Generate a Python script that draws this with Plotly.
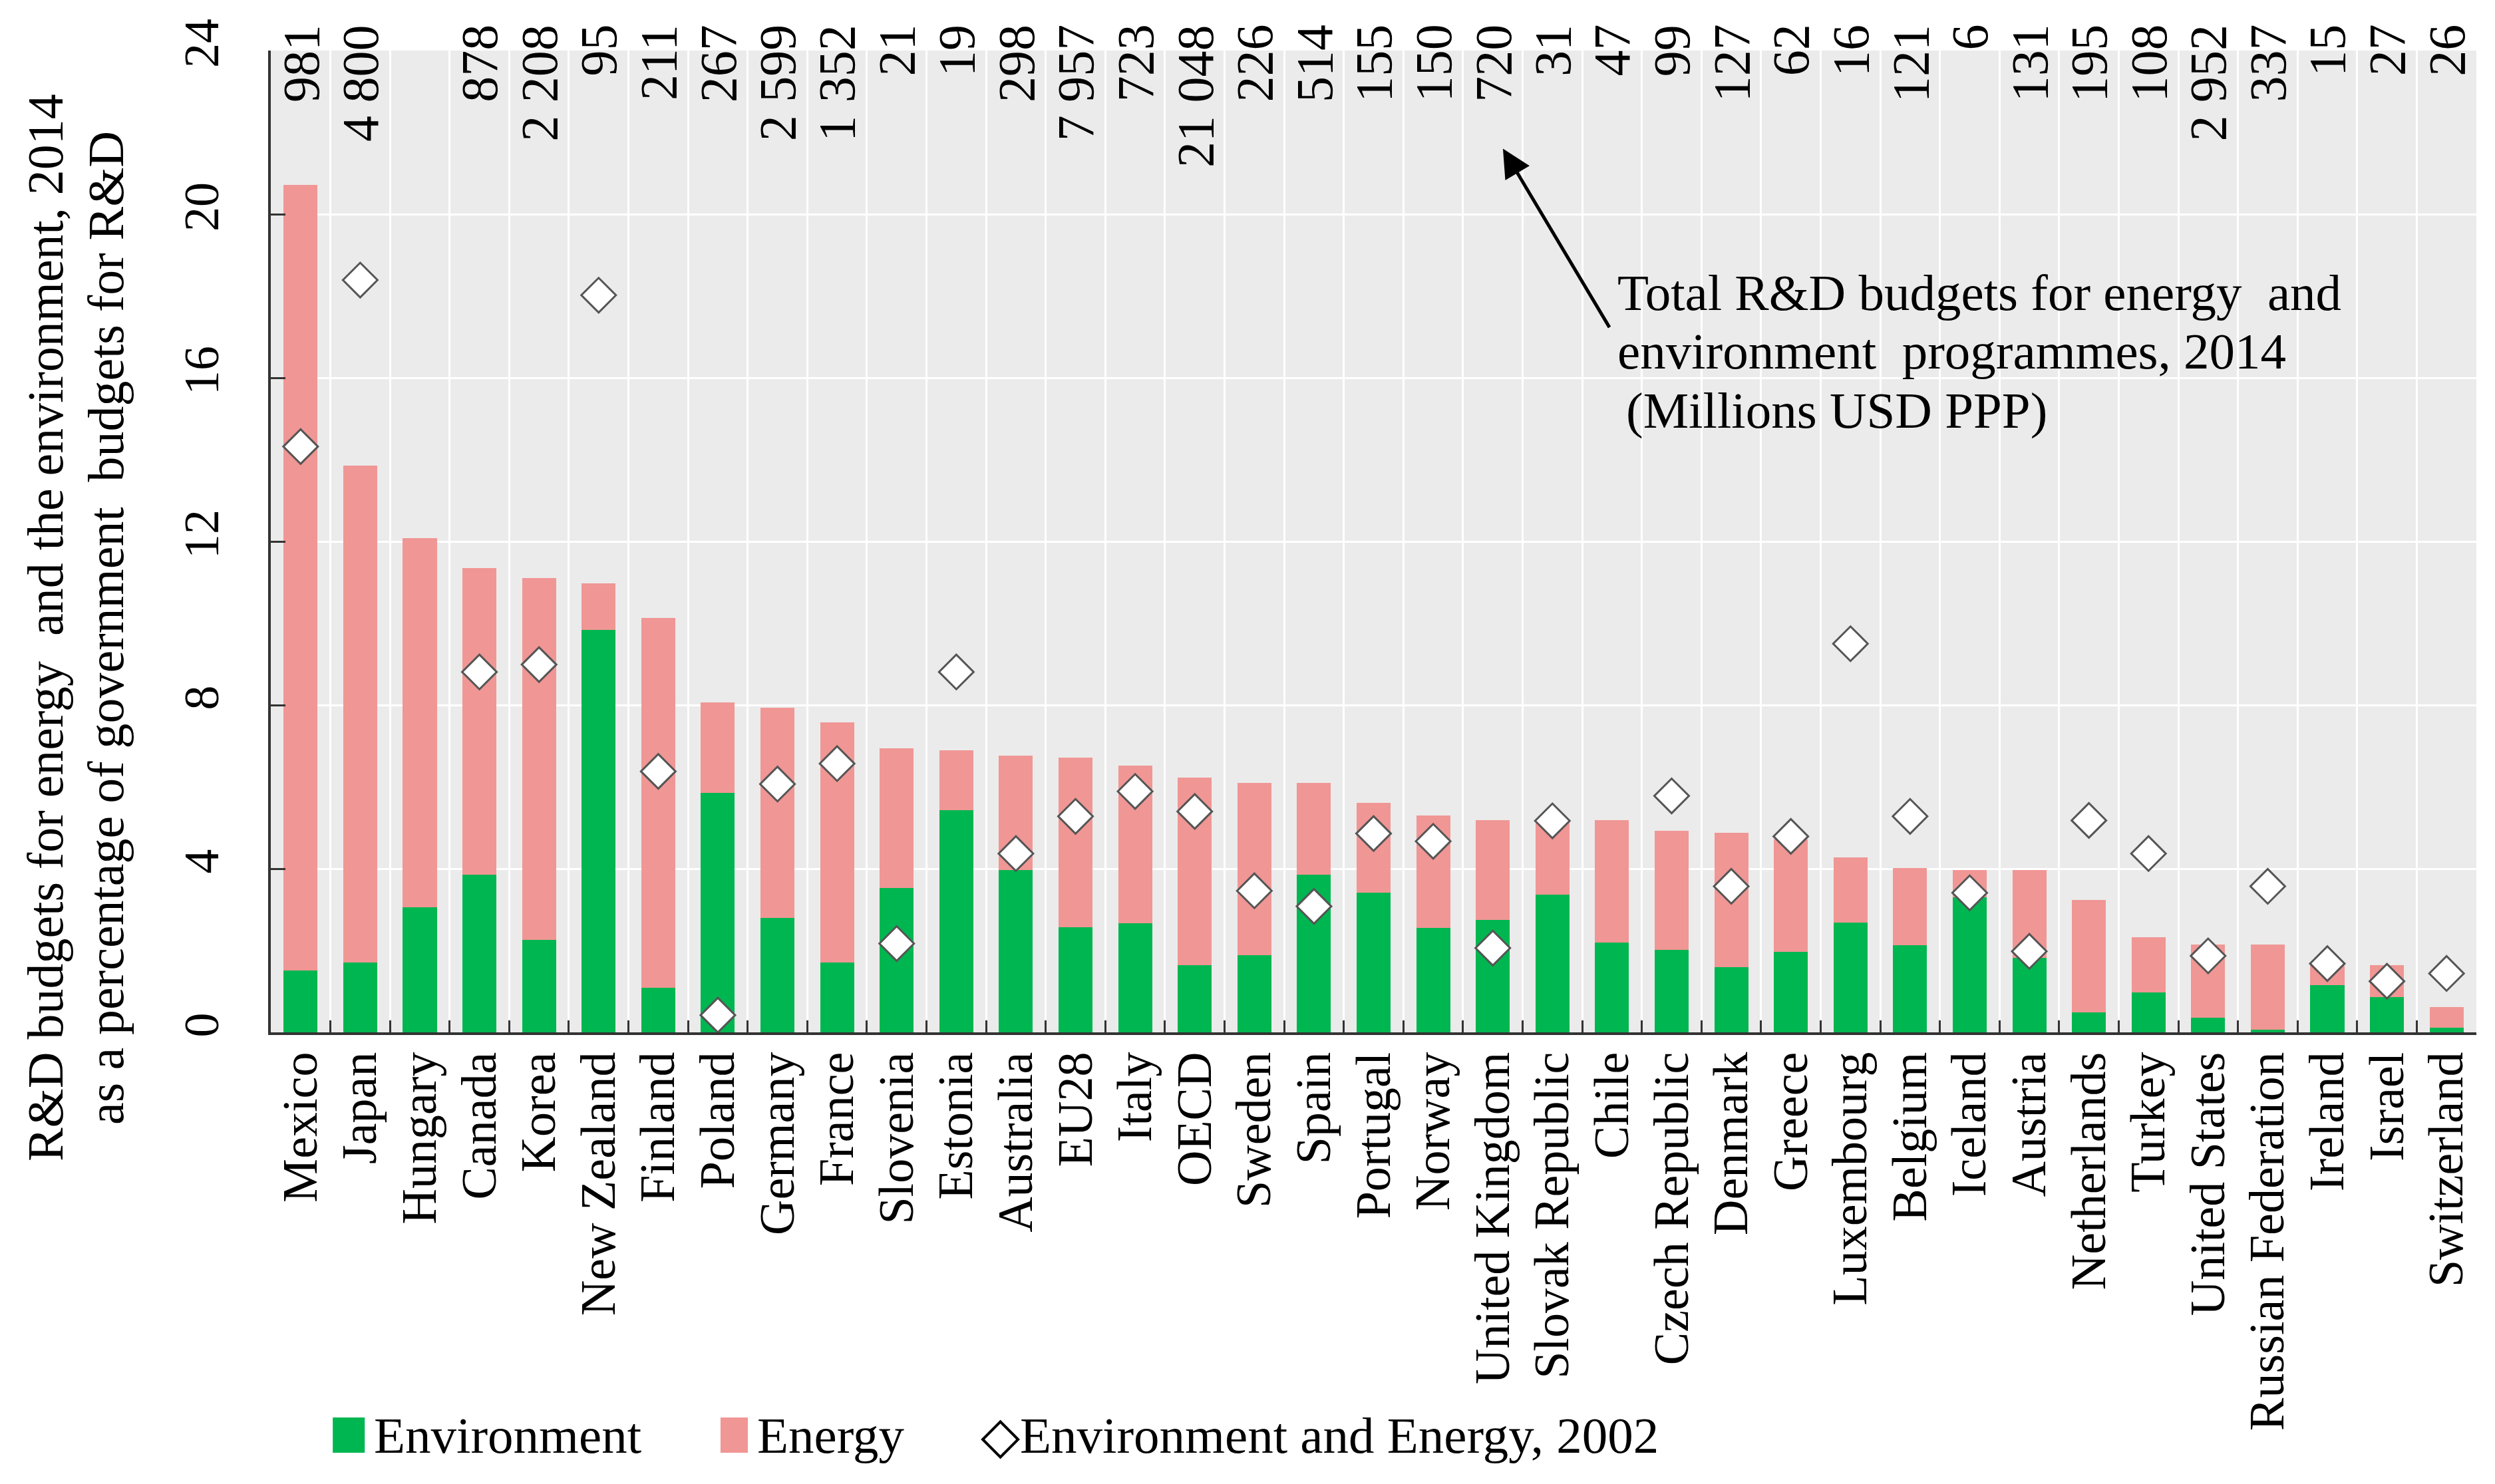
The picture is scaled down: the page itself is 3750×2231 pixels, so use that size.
import plotly.graph_objects as go

categories = ["Mexico", "Japan", "Hungary", "Canada", "Korea", "New Zealand", "Finland", "Poland",
              "Germany", "France", "Slovenia", "Estonia", "Australia", "EU28", "Italy", "OECD",
              "Sweden", "Spain", "Portugal", "Norway", "United Kingdom", "Slovak Republic", "Chile",
              "Czech Republic", "Denmark", "Greece", "Luxembourg", "Belgium", "Iceland", "Austria",
              "Netherlands", "Turkey", "United States", "Russian Federation", "Ireland", "Israel",
              "Switzerland"]

environment = [1.52, 1.70, 3.06, 3.85, 2.26, 9.83, 1.09, 5.86, 2.80, 1.70, 3.53, 5.43, 3.96, 2.57,
               2.67, 1.65, 1.89, 3.85, 3.41, 2.56, 2.75, 3.36, 2.19, 2.01, 1.59, 1.96, 2.68, 2.13,
               3.30, 1.82, 0.49, 0.97, 0.36, 0.07, 1.16, 0.86, 0.12]

energy = [19.20, 12.15, 9.02, 7.50, 8.84, 1.15, 9.04, 2.20, 5.13, 5.87, 3.42, 1.46, 2.81, 4.14,
          3.85, 4.57, 4.20, 2.24, 2.20, 2.74, 2.43, 1.79, 2.99, 2.92, 3.29, 2.76, 1.59, 1.89,
          0.66, 2.14, 2.74, 1.35, 1.78, 2.07, 0.46, 0.79, 0.49]

env_energy_2002 = [14.32, 18.39, None, 8.81, 8.99, 18.02, 6.38, 0.42, 6.07, 6.57, 2.17, 8.81, 4.37,
                   5.28, 5.89, 5.40, 3.46, 3.08, 4.86, 4.67, 2.06, 5.17, None, 5.78, 3.57, 4.79,
                   9.50, 5.28, 3.41, 1.98, 5.18, 4.37, 1.87, 3.57, 1.68, 1.25, 1.44]

total_budget_labels = ["981", "4 800", "", "878", "2 208", "95", "211", "267", "2 599", "1 352",
                       "21", "19", "298", "7 957", "723", "21 048", "226", "514", "155", "150",
                       "720", "31", "47", "99", "127", "62", "16", "121", "6", "131", "195", "108",
                       "2 952", "337", "15", "27", "26"]

y_ticks = [0, 4, 8, 12, 16, 20, 24]

GREEN = "#00B650"
PINK = "#F09694"
FONT = "Liberation Serif"
FS = 74
FS_NOTE = 77

fig = go.Figure()
fig.add_trace(go.Bar(x=categories, y=environment, name="Environment",
                     marker=dict(color=GREEN, line=dict(width=0)), showlegend=False))
fig.add_trace(go.Bar(x=categories, y=energy, name="Energy",
                     marker=dict(color=PINK, line=dict(width=0)), showlegend=False))
fig.add_trace(go.Scatter(x=categories, y=env_energy_2002, mode="markers",
                         name="Environment and Energy, 2002",
                         marker=dict(symbol="diamond", size=40, color="white",
                                     line=dict(color="#555555", width=3)),
                         showlegend=False))

# Total budget labels at top of each column
for cat, lab in zip(categories, total_budget_labels):
    if lab:
        fig.add_annotation(x=cat, xref="x", y=1.028, yref="paper", text=lab,
                           textangle=-90, showarrow=False, yanchor="top", xanchor="center",
                           font=dict(family=FONT, size=78, color="black"))

# Arrow
fig.add_annotation(x=20.17, xref="x", y=21.6, yref="y", text="", showarrow=True,
                   ax=161, ay=270, arrowhead=2, arrowsize=1.7, arrowwidth=5, arrowcolor="black")

note_lines = [("Total R&D budgets for energy  and", 0.6101, 0.7531),
              ("environment  programmes, 2014", 0.6101, 0.6935),
              ("(Millions USD PPP)", 0.6138, 0.6332)]
for txt, xx, yy in note_lines:
    fig.add_annotation(x=xx, xref="paper", y=yy, yref="paper", text=txt, showarrow=False,
                       xanchor="left", yanchor="middle",
                       font=dict(family=FONT, size=FS_NOTE, color="black"))

# Y axis title (two lines)
fig.add_annotation(x=-0.1022, xref="paper", y=0.412, yref="paper",
                   text="R&D budgets for energy  and the environment, 2014", textangle=-90,
                   showarrow=False, xanchor="center", yanchor="middle",
                   font=dict(family=FONT, size=76, color="black"))
fig.add_annotation(x=-0.0748, xref="paper", y=0.412, yref="paper",
                   text="as a percentage of government  budgets for R&D", textangle=-90,
                   showarrow=False, xanchor="center", yanchor="middle",
                   font=dict(family=FONT, size=76, color="black"))

# Legend (custom)
legend_y = -0.4105
sq_y0, sq_y1 = -0.4282, -0.3923
fig.add_shape(type="rect", xref="paper", yref="paper", x0=0.0281, x1=0.0426, y0=sq_y0, y1=sq_y1,
              fillcolor=GREEN, line=dict(width=0))
fig.add_annotation(x=0.0462, xref="paper", y=legend_y, yref="paper", text="Environment",
                   showarrow=False, xanchor="left", yanchor="middle",
                   font=dict(family=FONT, size=FS_NOTE, color="black"))
fig.add_shape(type="rect", xref="paper", yref="paper", x0=0.2039, x1=0.2163, y0=sq_y0, y1=sq_y1,
              fillcolor=PINK, line=dict(width=0))
fig.add_annotation(x=0.2199, xref="paper", y=legend_y, yref="paper", text="Energy",
                   showarrow=False, xanchor="left", yanchor="middle",
                   font=dict(family=FONT, size=FS_NOTE, color="black"))
fig.add_annotation(x=0.3213, xref="paper", y=legend_y, yref="paper",
                   text="◇Environment and Energy, 2002",
                   showarrow=False, xanchor="left", yanchor="middle",
                   font=dict(family=FONT, size=FS_NOTE, color="black"))

fig.update_layout(
    width=3750, height=2231,
    margin=dict(l=399, r=36, t=68, b=687, pad=0),
    barmode="stack", bargap=0.43,
    plot_bgcolor="#EBEBEB", paper_bgcolor="white",
    font=dict(family=FONT, size=FS, color="black"),
    showlegend=False,
)
fig.update_xaxes(type="category", range=[-0.5, len(categories) - 0.5],
                 tickmode="linear", tick0=0, dtick=1,
                 showgrid=True, gridcolor="white", gridwidth=3,
                 tickson="boundaries", ticks="inside", ticklen=18, tickwidth=3, tickcolor="#333333",
                 showline=True, linecolor="#333333", linewidth=4, tickangle=-90,
                 ticklabelstandoff=-4, tickfont=dict(family=FONT, size=FS, color="black"))
fig.update_yaxes(range=[0, 24], tickvals=y_ticks, ticktext=[str(v) for v in y_ticks],
                 showgrid=True, gridcolor="white", gridwidth=3, zeroline=False,
                 ticks="inside", ticklen=22, tickwidth=3, tickcolor="#333333",
                 showline=True, linecolor="#333333", linewidth=4, tickangle=-90,
                 ticklabelstandoff=45, tickfont=dict(family=FONT, size=FS, color="black"))

fig.write_html("out.html")
